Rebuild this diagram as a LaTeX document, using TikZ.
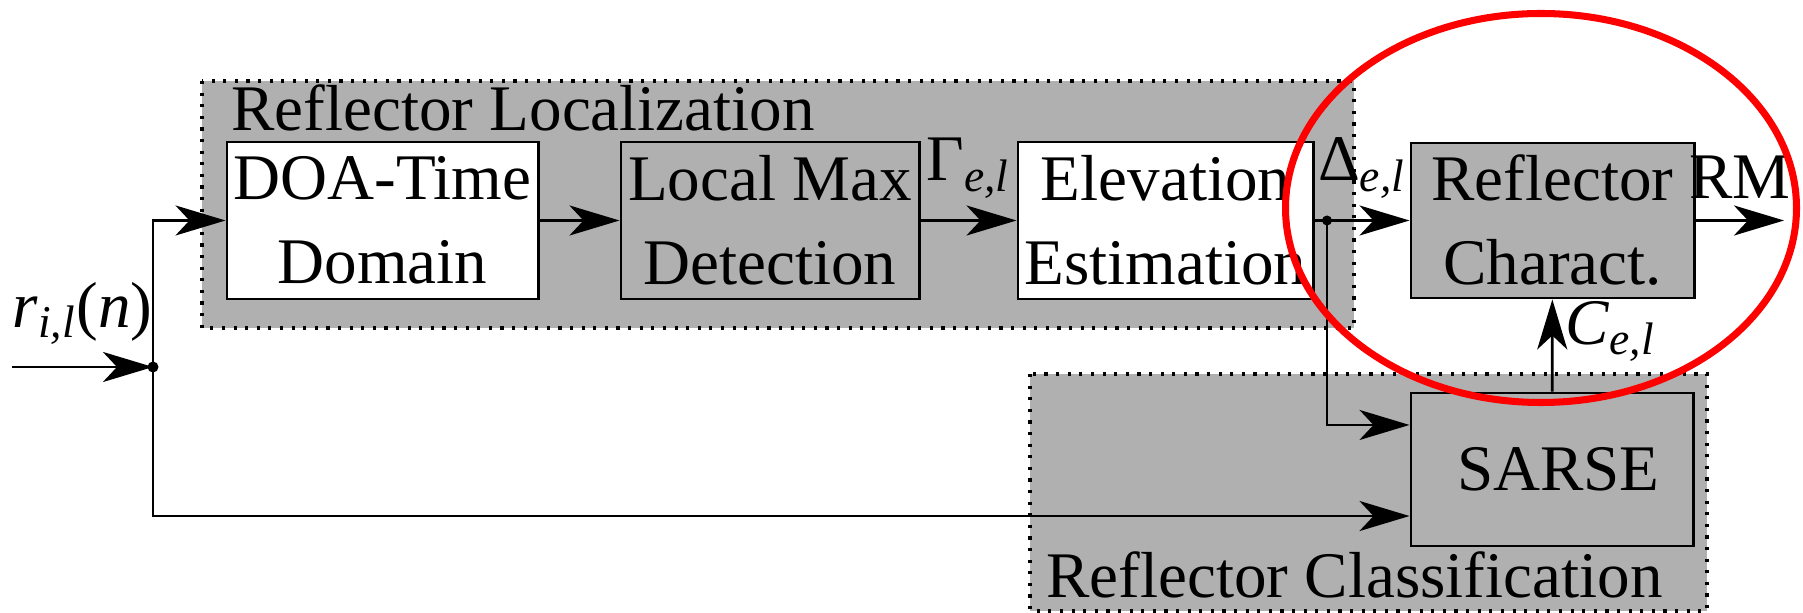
\documentclass[tikz,border=0pt]{standalone}
\usepackage{fontspec}
\setmainfont{Liberation Serif}
\newfontfamily\timesfont{Liberation Serif}
\usepackage{tikz}
\usetikzlibrary{arrows.meta}

\begin{document}
\begin{tikzpicture}[auto, x=0.01cm, y=-0.01cm, line width=0.8pt,
    font=\timesfont\fontsize{18.5}{23.9}\selectfont,
    >={Stealth[length=0.5cm, width=0.3cm, inset=0.14cm]},
    blk/.style={draw, fill=white, align=center, inner sep=0pt, minimum height=1.57cm},
    gblk/.style={blk, fill=black!31},
    grp/.style={draw, fill=black!31, line width=0.9pt, dash pattern=on 0.9pt off 2.4pt},
    lbl/.style={anchor=base west, inner sep=0pt},
    tag/.style={above, yshift=0.09cm}]

    \useasboundingbox (0,0) rectangle (1803,613);

    \draw [grp] (202,81) rectangle (1354,328);
    \draw [grp] (1030,374) rectangle (1707,611);
    \node [lbl] (g) at (230,131) {Reflector Localization};
    \node [lbl] (h) at (1045,598) {Reflector Classification};

    \node [blk, minimum width=3.11cm] (a) at (382.5,220.5) {DOA-Time\\Domain};
    \node [gblk, minimum width=2.98cm] (b) at (770,220.5) {Local Max\\Detection};
    \node [blk, minimum width=2.95cm] (c) at (1165.5,220.5) {Elevation\\Estimation};
    \node [gblk, minimum width=2.83cm, minimum height=1.55cm] (d) at (1552.5,220.5) {Reflector\\Charact.};
    \node [gblk, minimum width=2.82cm, minimum height=1.53cm] (e) at (1552,469.5) {\hspace{0.13cm}SARSE};

    \coordinate (i) at (12,367);
    \coordinate (j) at (153,367);
    \coordinate (k) at (1327,220.5);
    \coordinate (o) at (1784,220.5);

    \draw [->] (i) to node[tag] {\textit{r}\textsubscript{\textit{i,l}}(\textit{n})} (j);
    \draw [->] (j) |- (a);
    \draw [->] (j) |- ([yshift=-0.465cm]e.west);
    \draw [->] (a) to (b);
    \draw [->] (b) to node[tag] {Γ\textsubscript{\textit{e,l}}} (c);
    \draw [->] (c) to node[tag] {Δ\textsubscript{\textit{e,l}}} (d);
    \draw [->] (k) |- ([yshift=0.445cm]e.west);
    \draw [->] (e) to node[right, yshift=0.14cm] {\textit{C}\textsubscript{\textit{e,l}}} (d);
    \draw [->] (d) to node[tag] {RM} (o);
    \fill (j) circle (5.5);
    \fill (k) circle (5);

    \draw [red, line width=2pt] (1541,208) ellipse [x radius=255.5, y radius=194.5];

\end{tikzpicture}
\end{document}
